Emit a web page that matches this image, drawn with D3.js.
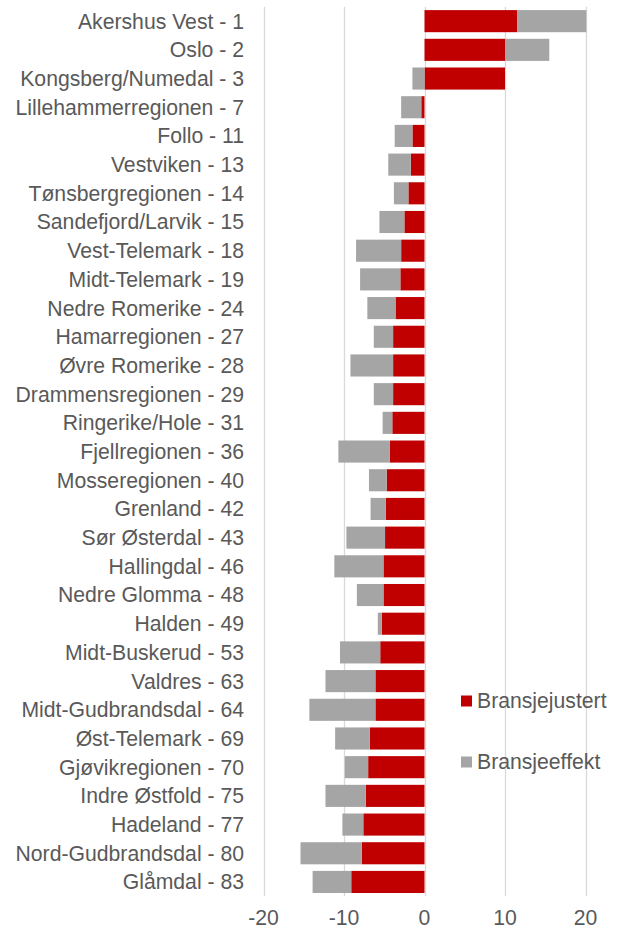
<!DOCTYPE html>
<html>
<head>
<meta charset="utf-8">
<script src="https://cdn.jsdelivr.net/npm/d3@7"></script>
<style>
  body { margin: 0; background: #fff; }
  text { font-family: "Liberation Sans", Arial, sans-serif; fill: #595959; }
</style>
</head>
<body>
<script>
// regions, in the order shown (top to bottom)
var categories = [
    "Akershus Vest - 1", "Oslo - 2", "Kongsberg/Numedal - 3", "Lillehammerregionen - 7",
    "Follo - 11", "Vestviken - 13", "Tønsbergregionen - 14", "Sandefjord/Larvik - 15",
    "Vest-Telemark - 18", "Midt-Telemark - 19", "Nedre Romerike - 24", "Hamarregionen - 27",
    "Øvre Romerike - 28", "Drammensregionen - 29", "Ringerike/Hole - 31", "Fjellregionen - 36",
    "Mosseregionen - 40", "Grenland - 42", "Sør Østerdal - 43", "Hallingdal - 46",
    "Nedre Glomma - 48", "Halden - 49", "Midt-Buskerud - 53", "Valdres - 63",
    "Midt-Gudbrandsdal - 64", "Øst-Telemark - 69", "Gjøvikregionen - 70", "Indre Østfold - 75",
    "Hadeland - 77", "Nord-Gudbrandsdal - 80", "Glåmdal - 83"
];

var bransjejustert = [
    11.5, 10.0, 10.0, -0.4, -1.5, -1.7, -2.0, -2.5,
    -2.9, -3.0, -3.6, -3.9, -3.9, -3.9, -4.0, -4.3,
    -4.7, -4.8, -4.9, -5.1, -5.1, -5.3, -5.5, -6.1,
    -6.1, -6.8, -7.0, -7.3, -7.6, -7.8, -9.1
];

var bransjeeffekt = [
    8.6, 5.5, -1.5, -2.5, -2.2, -2.8, -1.8, -3.1,
    -5.6, -5.0, -3.5, -2.4, -5.3, -2.4, -1.2, -6.4,
    -2.2, -1.9, -4.8, -6.1, -3.3, -0.5, -5.0, -6.2,
    -8.2, -4.3, -2.9, -5.0, -2.6, -7.6, -4.8
];

var seriesNames = ["Bransjejustert", "Bransjeeffekt"];
var xTicks = [-20, -10, 0, 10, 20];

var colors = { "Bransjejustert": "#c00000", "Bransjeeffekt": "#a5a5a5" };

var width = 617, height = 932;
var fontSize = "21.2px";

var rows = categories.map(function(c, i) {
    return { cat: c, "Bransjejustert": bransjejustert[i], "Bransjeeffekt": bransjeeffekt[i] };
});

var svg = d3.select("body").append("svg")
    .attr("width", width)
    .attr("height", height);

var x = d3.scaleLinear()
    .domain([-20, 20])
    .range([263.5, 585.5]);

var y = d3.scaleBand()
    .domain(categories)
    .range([6.8, 896.3])
    .paddingInner(0.23)
    .paddingOuter(0.115);

// gridlines
svg.append("g")
    .selectAll("line")
    .data(xTicks)
    .enter()
    .append("line")
    .attr("x1", function(d) { return Math.round(x(d)) + 0.5; })
    .attr("x2", function(d) { return Math.round(x(d)) + 0.5; })
    .attr("y1", 6.8)
    .attr("y2", 896.3)
    .attr("stroke", "#d9d9d9")
    .attr("stroke-width", 1.3);

// excel style stacking, negatives pile on the negative side
var stack = d3.stack()
    .keys(seriesNames)
    .offset(d3.stackOffsetDiverging);

var layers = stack(rows);

svg.append("g")
    .selectAll("g")
    .data(layers)
    .enter()
    .append("g")
    .attr("fill", function(l) { return colors[l.key]; })
    .selectAll("rect")
    .data(function(l) { return l; })
    .enter()
    .append("rect")
    .attr("x", function(d) { return x(Math.min(d[0], d[1])); })
    .attr("width", function(d) { return Math.abs(x(d[1]) - x(d[0])); })
    .attr("y", function(d) { return y(d.data.cat); })
    .attr("height", y.bandwidth());

// category labels
svg.append("g")
    .selectAll("text")
    .data(categories)
    .enter()
    .append("text")
    .attr("x", 244)
    .attr("y", function(d) { return y(d) + y.bandwidth() / 2; })
    .attr("dy", "0.35em")
    .attr("text-anchor", "end")
    .style("font-size", fontSize)
    .text(function(d) { return d; });

// x axis tick labels
svg.append("g")
    .selectAll("text")
    .data(xTicks)
    .enter()
    .append("text")
    .attr("x", function(d) { return x(d); })
    .attr("y", 918)
    .attr("dy", "0.35em")
    .attr("text-anchor", "middle")
    .style("font-size", fontSize)
    .text(function(d) { return d; });

// legend
var legend = svg.append("g")
    .selectAll("g")
    .data(seriesNames)
    .enter()
    .append("g")
    .attr("transform", function(d, i) { return "translate(461," + (701 + i * 61) + ")"; });

legend.append("rect")
    .attr("x", 0)
    .attr("y", -5.5)
    .attr("width", 11)
    .attr("height", 11)
    .attr("fill", function(d) { return colors[d]; });

legend.append("text")
    .attr("x", 16)
    .attr("y", 0)
    .attr("dy", "0.35em")
    .style("font-size", fontSize)
    .text(function(d) { return d; });
</script>
</body>
</html>
